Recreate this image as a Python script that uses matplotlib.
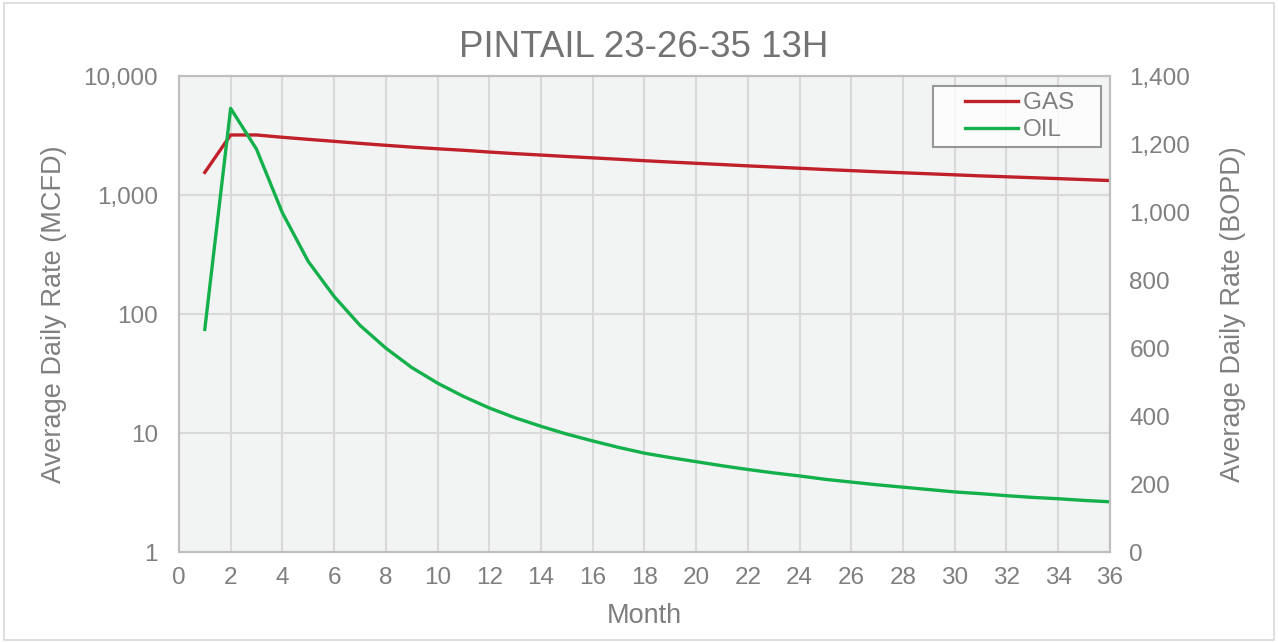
import numpy as np
import matplotlib
matplotlib.use("Agg")
import matplotlib.pyplot as plt
from matplotlib.ticker import FuncFormatter, FixedLocator, NullLocator
from matplotlib.patches import Rectangle
from matplotlib.legend_handler import HandlerLine2D

plt.rcParams["font.family"] = ["Liberation Sans", "DejaVu Sans"]

TITLE = "PINTAIL 23-26-35 13H"

months = list(range(1, 37))

# gas rate, MCFD (left, log axis)
gas = [1550, 3200, 3200, 3060, 2940, 2830, 2720, 2620, 2530, 2450,
       2380, 2300, 2230, 2170, 2110, 2055, 2000, 1945, 1895, 1850,
       1805, 1760, 1720, 1680, 1640, 1605, 1570, 1540, 1510, 1480,
       1450, 1425, 1400, 1375, 1350, 1325]

# oil rate, BOPD (right, linear axis)
oil = [655, 1305, 1185, 998, 855, 752, 667, 600, 543, 497,
       458, 424, 395, 370, 347, 327, 308, 291, 278, 266,
       254, 243, 233, 224, 214, 206, 198, 191, 184, 177,
       172, 166, 161, 157, 152, 148]

x_ticks = list(range(0, 37, 2))
left_ticks = [1, 10, 100, 1000, 10000]
right_ticks = list(range(0, 1401, 200))

GAS_C = "#C0202A"
OIL_C = "#14B04B"
TXT = "#7F7F7F"
GRID = "#D9D9D9"
SPINE = "#BFBFBF"


class PaddedLine(HandlerLine2D):
    # excel-style legend: blank space to the left of the sample line
    def create_artists(self, legend, orig_handle, xdescent, ydescent,
                       width, height, fontsize, trans):
        arts = super().create_artists(legend, orig_handle, xdescent, ydescent,
                                      width, height, fontsize, trans)
        for a in arts:
            xd = np.asarray(a.get_xdata(), dtype=float)
            if len(xd) > 1:
                x0, x1 = xd.min(), xd.max()
                a.set_xdata(np.linspace(x0 + 0.32 * (x1 - x0), x1, len(xd)))
        return arts


fig = plt.figure(figsize=(12.78, 6.42), dpi=100)
fig.patches.append(Rectangle((0.003, 0.003), 0.994, 0.993, transform=fig.transFigure,
                             fill=False, edgecolor="#D9D9D9", linewidth=1.2))

ax = fig.add_axes([0.140, 0.140, 0.7285, 0.7415])
ax.set_facecolor("#F2F4F3")
ax.set_yscale("log")
ax.set_ylim(1, 10000)
ax.set_xlim(0, 36)
ax.xaxis.set_major_locator(FixedLocator(x_ticks))
ax.yaxis.set_major_locator(FixedLocator(left_ticks))
ax.yaxis.set_minor_locator(NullLocator())
ax.yaxis.set_major_formatter(FuncFormatter(lambda v, p: f"{v:,.0f}"))
ax.grid(True, color=GRID, linewidth=1.5)
ax.set_axisbelow(True)

ax2 = ax.twinx()
ax2.set_ylim(0, 1400)
ax2.yaxis.set_major_locator(FixedLocator(right_ticks))
ax2.yaxis.set_major_formatter(FuncFormatter(lambda v, p: f"{v:,.0f}"))

for a in (ax, ax2):
    for s in a.spines.values():
        s.set_color(SPINE)
        s.set_linewidth(1.5)
    a.tick_params(length=0, labelsize=17.5, labelcolor=TXT)
ax.tick_params(axis="y", pad=15)
ax.tick_params(axis="x", pad=11)
ax2.tick_params(axis="y", pad=14)

l1, = ax.plot(months, gas, color=GAS_C, linewidth=2.4, label="GAS")
l2, = ax2.plot(months, oil, color=OIL_C, linewidth=2.4, label="OIL")

ax.set_xlabel("Month", fontsize=19.5, color=TXT, labelpad=10)
ax.set_ylabel("Average Daily Rate (MCFD)", fontsize=19.5, color=TXT, labelpad=12)
ax2.set_ylabel("Average Daily Rate (BOPD)", fontsize=19.5, color=TXT, labelpad=21)

fig.suptitle(TITLE, fontsize=26.5, color="#737373", x=0.504, y=0.954)

leg = ax2.legend(handles=[l1, l2], labels=["GAS   ", "OIL"], loc="upper right",
                 bbox_to_anchor=(0.9903, 0.979),
                 fontsize=17.5, frameon=True, fancybox=False, handlelength=3.25,
                 handletextpad=0.2, borderpad=0.25, labelspacing=0.2,
                 borderaxespad=0.0, handler_map={matplotlib.lines.Line2D: PaddedLine()})
leg.get_frame().set_edgecolor("#7F7F7F")
leg.get_frame().set_linewidth(1.5)
for t in leg.get_texts():
    t.set_color(TXT)

fig.savefig("out.png", dpi=100)
